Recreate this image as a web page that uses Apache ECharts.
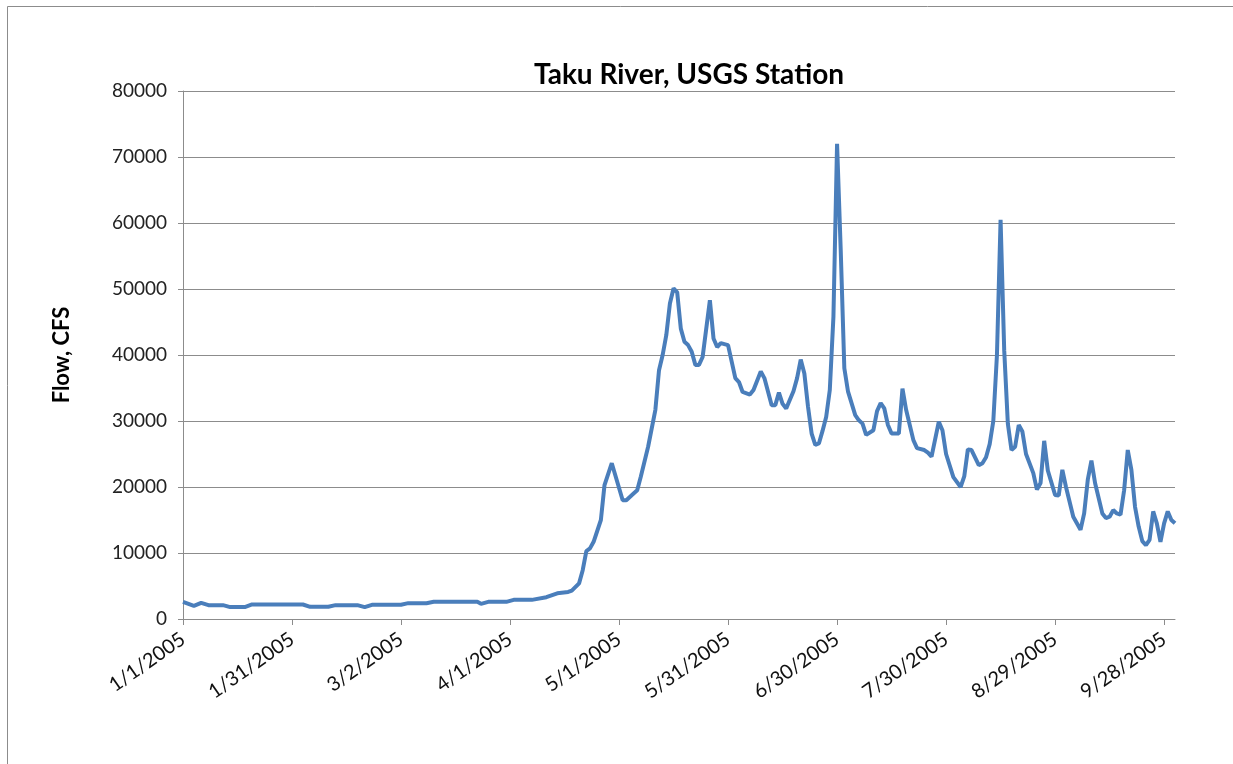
<!DOCTYPE html>
<html>
<head>
<meta charset="utf-8">
<title>Taku River, USGS Station</title>
<script src="https://cdn.jsdelivr.net/npm/echarts@6.0.0/dist/echarts.min.js"></script>
<style>
  html, body { margin: 0; padding: 0; background: #fff; }
  #chart { width: 1233px; height: 764px; }
</style>
</head>
<body>
<div id="chart"></div>
<script>
// days counted from 1/1/2005, flow in cfs
var dayOffsets = [
  0, 3, 5, 7, 11, 13, 17, 19, 33, 35, 40, 42, 48, 50, 52, 60, 62, 67, 69, 81,
  82, 84, 89, 91, 96, 100, 103, 106, 107, 109, 110, 111, 112, 113, 115, 116, 118, 121, 122, 124,
  125, 126, 128, 130, 131, 132, 133, 134, 135, 136, 137, 138, 139, 140, 141, 142, 143, 145, 146, 147,
  148, 150, 152, 153, 154, 156, 157, 159, 160, 162, 163, 164, 165, 166, 168, 169, 170, 171, 172, 173,
  174, 175, 176, 177, 178, 179, 180, 181, 182, 183, 185, 186, 187, 188, 190, 191, 192, 193, 194, 195,
  197, 198, 199, 201, 202, 204, 205, 206, 208, 209, 210, 212, 214, 215, 216, 217, 219, 220, 221, 222,
  223, 224, 225, 226, 227, 228, 229, 230, 231, 232, 234, 235, 236, 237, 238, 240, 241, 242, 243, 245,
  246, 247, 248, 249, 250, 251, 253, 254, 255, 256, 257, 258, 259, 260, 261, 262, 263, 264, 265, 266,
  267, 268, 269, 270, 271, 272, 273
];
var flowCfs = [
  2600, 2000, 2450, 2100, 2100, 1800, 1800, 2200, 2200, 1850, 1850, 2100, 2100, 1800, 2150, 2150, 2400, 2400, 2600, 2600,
  2300, 2600, 2600, 2900, 2900, 3300, 3900, 4100, 4300, 5400, 7400, 10300, 10700, 11700, 15000, 20300, 23600, 18000, 18000, 19000,
  19500, 21600, 26100, 31700, 37700, 40000, 43000, 47800, 50100, 49500, 44000, 42000, 41500, 40500, 38500, 38500, 39700, 48300, 42500, 41200,
  41800, 41500, 36500, 35900, 34400, 34000, 34700, 37500, 36500, 32400, 32400, 34300, 32600, 31900, 34500, 36500, 39300, 37200, 32200, 28100,
  26400, 26600, 28500, 30600, 34700, 45800, 72000, 56000, 38000, 34500, 30900, 30100, 29600, 27900, 28600, 31500, 32700, 31900, 29400, 28100,
  28100, 34900, 31700, 27100, 25900, 25600, 25200, 24600, 29900, 28600, 25000, 21500, 20000, 21600, 25700, 25600, 23300, 23600, 24500, 26500,
  30000, 40000, 60500, 40700, 29600, 25600, 26100, 29400, 28400, 25000, 22100, 19600, 20600, 27000, 22500, 18800, 18700, 22600, 20000, 15500,
  14500, 13500, 16000, 21100, 24000, 20600, 16000, 15300, 15500, 16500, 16000, 15800, 19500, 25600, 22600, 17000, 14000, 11800, 11200, 12000,
  16300, 14500, 11700, 14500, 16300, 15000, 14500
];
var tickDays = [0, 30, 60, 90, 120, 150, 180, 210, 240, 270];
var startDate = Date.UTC(2005, 0, 1);

function dayLabel(d) {
  var t = new Date(startDate + d * 86400000);
  return (t.getUTCMonth() + 1) + '/' + t.getUTCDate() + '/' + t.getUTCFullYear();
}

var seriesData = [];
for (var i = 0; i < dayOffsets.length; i++) {
  seriesData.push([dayOffsets[i], flowCfs[i]]);
}

var myChart = echarts.init(document.getElementById('chart'));

var option = {
  backgroundColor: '#fff',
  animation: false,
  title: {
    text: 'Taku River, USGS Station',
    left: 684,
    top: 56,
    textAlign: 'center',
    textStyle: {
      fontFamily: 'Lato',
      fontWeight: 'bold',
      fontSize: 28,
      color: '#000'
    }
  },
  graphic: [{
    type: 'rect',
    shape: { x: 7.5, y: 6.5, width: 1400, height: 1000 },
    style: { fill: null, stroke: '#8c8c8c', lineWidth: 1 },
    silent: true
  }],
  grid: {
    left: 183,
    right: 58,
    top: 91,
    bottom: 145,
    containLabel: false
  },
  xAxis: {
    type: 'value',
    min: 0,
    max: 273,
    interval: 30,
    splitLine: { show: false },
    axisLine: { lineStyle: { color: '#8c8c8c', width: 1 } },
    axisTick: {
      show: true,
      length: 6,
      customValues: tickDays,
      lineStyle: { color: '#8c8c8c' }
    },
    axisLabel: {
      customValues: tickDays,
      rotate: 35,
      margin: 18,
      fontFamily: 'Lato',
      fontSize: 20,
      color: '#111',
      formatter: function (v) { return dayLabel(v); }
    }
  },
  yAxis: {
    type: 'value',
    min: 0,
    max: 80000,
    interval: 10000,
    name: 'Flow, CFS',
    nameLocation: 'middle',
    nameGap: 110,
    nameTextStyle: {
      fontFamily: 'Lato',
      fontWeight: 'bold',
      fontSize: 22,
      color: '#000'
    },
    axisLine: { show: true, lineStyle: { color: '#8c8c8c', width: 1 } },
    axisTick: { show: true, length: 5, lineStyle: { color: '#8c8c8c' } },
    splitLine: { lineStyle: { color: '#8c8c8c', width: 1 } },
    axisLabel: {
      margin: 16,
      fontFamily: 'Lato',
      fontSize: 19,
      color: '#222',
      formatter: function (v) { return String(v); }
    }
  },
  series: [{
    type: 'line',
    data: seriesData,
    showSymbol: false,
    symbol: 'none',
    smooth: false,
    lineStyle: { color: '#4a7ebb', width: 4 },
    itemStyle: { color: '#4a7ebb' }
  }]
};

myChart.setOption(option);
</script>
</body>
</html>
